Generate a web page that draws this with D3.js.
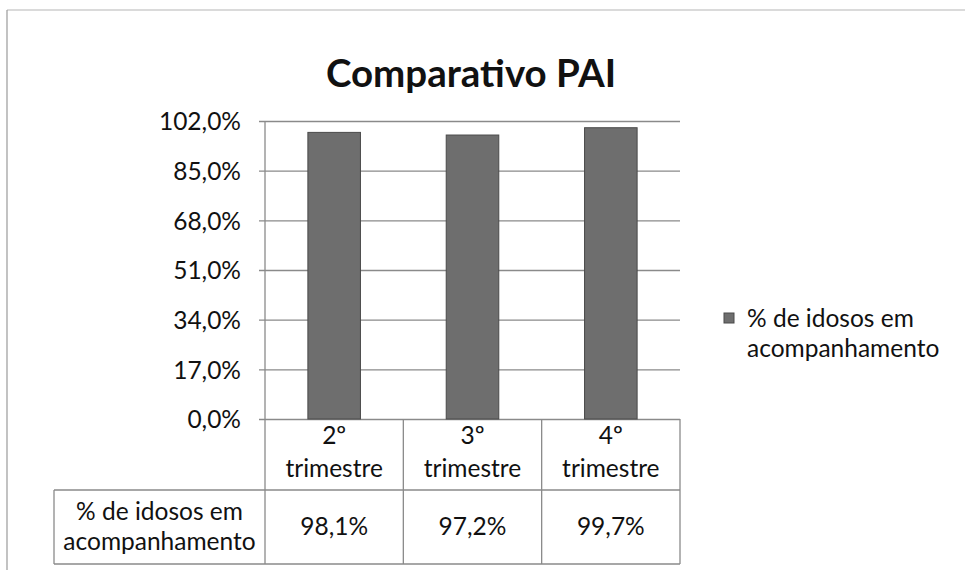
<!DOCTYPE html>
<html>
<head>
<meta charset="utf-8">
<script src="https://cdn.jsdelivr.net/npm/d3@7"></script>
<style>
  body { margin: 0; background: #fff; }
  svg text { font-family: Lato, "Open Sans", sans-serif; fill: #111; }
</style>
</head>
<body>
<div id="chart"></div>
<script>
// chart data
var categories = [["2º", "trimestre"], ["3º", "trimestre"], ["4º", "trimestre"]];
var values = [98.1, 97.2, 99.7];
var yTicks = [0, 17, 34, 51, 68, 85, 102];
var seriesName = ["% de idosos em", "acompanhamento"];
var title = "Comparativo PAI";

var svgWidth = 965;
var svgHeight = 570;
var fontSize = "24.5px";

var margin = { top: 121, right: 285, bottom: 151, left: 265 };
var chartWidth = svgWidth - margin.left - margin.right;
var chartHeight = svgHeight - margin.top - margin.bottom;

var ptBR = d3.formatLocale({ decimal: ",", thousands: ".", grouping: [3], currency: ["R$", ""] });
var pct = function (v) { return ptBR.format(".1f")(v) + "%"; };

var svg = d3.select("#chart")
    .append("svg")
    .attr("width", svgWidth)
    .attr("height", svgHeight);

// outer frame (only left + top edges visible in the scan)
svg.append("line").attr("x1", 7).attr("x2", 965).attr("y1", 10).attr("y2", 10)
    .attr("stroke", "#b5b5b5").attr("stroke-width", 1.2);
svg.append("line").attr("x1", 7).attr("x2", 7).attr("y1", 10).attr("y2", 570)
    .attr("stroke", "#9a9a9a").attr("stroke-width", 1.2);

// title
svg.append("text")
    .attr("x", 471)
    .attr("y", 87)
    .attr("text-anchor", "middle")
    .style("font-size", "38.5px")
    .style("font-weight", "bold")
    .text(title);

var chartGroup = svg.append("g")
    .attr("transform", `translate(${margin.left}, ${margin.top})`);

var xScale = d3.scaleBand()
    .domain(d3.range(categories.length))
    .range([0, chartWidth])
    .paddingInner(0)
    .paddingOuter(0);

var yScale = d3.scaleLinear()
    .domain([0, 102])
    .range([chartHeight, 0]);

// gridlines + y labels
var leftAxis = d3.axisLeft(yScale)
    .tickValues(yTicks)
    .tickSize(-chartWidth)
    .tickPadding(24)
    .tickFormat(pct);

var yAxis = chartGroup.append("g").call(leftAxis);
yAxis.select(".domain").remove();
yAxis.selectAll(".tick line")
    .attr("x1", -6)
    .attr("stroke", "#8a8a8a")
    .attr("stroke-width", 1.3);
yAxis.selectAll(".tick text")
    .style("font-size", fontSize)
    .attr("dy", "0.36em")
    .attr("fill", "#111");

// bars
var barW = xScale.bandwidth() * 0.38;
chartGroup.selectAll("rect.bar")
    .data(values)
    .enter()
    .append("rect")
    .attr("class", "bar")
    .attr("x", (d, i) => xScale(i) + (xScale.bandwidth() - barW) / 2)
    .attr("y", d => yScale(d))
    .attr("width", barW)
    .attr("height", d => chartHeight - yScale(d))
    .attr("fill", "#6e6e6e")
    .attr("stroke", "#4a4a4a")
    .attr("stroke-width", 1);

// data table under the plot
var headH = 71;
var rowH = 74;
var tableLeft = 54 - margin.left;
var lineColor = "#8a8a8a";
var table = chartGroup.append("g").attr("transform", `translate(0, ${chartHeight})`);

// vertical lines (axis continues down)
var vx = [0].concat(categories.map((c, i) => xScale(i) + xScale.bandwidth()));
table.selectAll("line.v")
    .data(vx)
    .enter()
    .append("line")
    .attr("x1", d => d).attr("x2", d => d)
    .attr("y1", (d, i) => i === 0 ? -chartHeight : 0)
    .attr("y2", headH + rowH)
    .attr("stroke", lineColor).attr("stroke-width", 1.3);

table.append("line")
    .attr("x1", tableLeft).attr("x2", tableLeft)
    .attr("y1", headH).attr("y2", headH + rowH)
    .attr("stroke", lineColor).attr("stroke-width", 1.3);

[headH, headH + rowH].forEach(function (y) {
    table.append("line")
        .attr("x1", tableLeft).attr("x2", chartWidth)
        .attr("y1", y).attr("y2", y)
        .attr("stroke", lineColor).attr("stroke-width", 1.3);
});

// category labels
var catText = table.selectAll("text.cat")
    .data(categories)
    .enter()
    .append("text")
    .attr("class", "cat")
    .attr("text-anchor", "middle")
    .style("font-size", fontSize);
catText.selectAll("tspan")
    .data((d, i) => d.map(s => ({ s: s, i: i })))
    .enter()
    .append("tspan")
    .attr("x", d => xScale(d.i) + xScale.bandwidth() / 2)
    .attr("y", (d, j) => j === 0 ? 25 : 58)
    .text(d => d.s);

// value row
table.selectAll("text.val")
    .data(values)
    .enter()
    .append("text")
    .attr("class", "val")
    .attr("x", (d, i) => xScale(i) + xScale.bandwidth() / 2)
    .attr("y", headH + 45)
    .attr("text-anchor", "middle")
    .style("font-size", fontSize)
    .text(pct);

// row header
table.append("text")
    .attr("text-anchor", "middle")
    .style("font-size", fontSize)
    .selectAll("tspan")
    .data(seriesName)
    .enter()
    .append("tspan")
    .attr("x", tableLeft / 2)
    .attr("y", (d, j) => headH + 30 + j * 30)
    .text(d => d);

// legend
var legend = svg.append("g").attr("transform", "translate(724, 313)");
legend.append("rect")
    .attr("width", 10).attr("height", 10)
    .attr("fill", "#6e6e6e").attr("stroke", "#4a4a4a");
legend.append("text")
    .style("font-size", fontSize)
    .selectAll("tspan")
    .data(seriesName)
    .enter()
    .append("tspan")
    .attr("x", 23)
    .attr("y", (d, j) => 14 + j * 30)
    .text(d => d);
</script>
</body>
</html>
